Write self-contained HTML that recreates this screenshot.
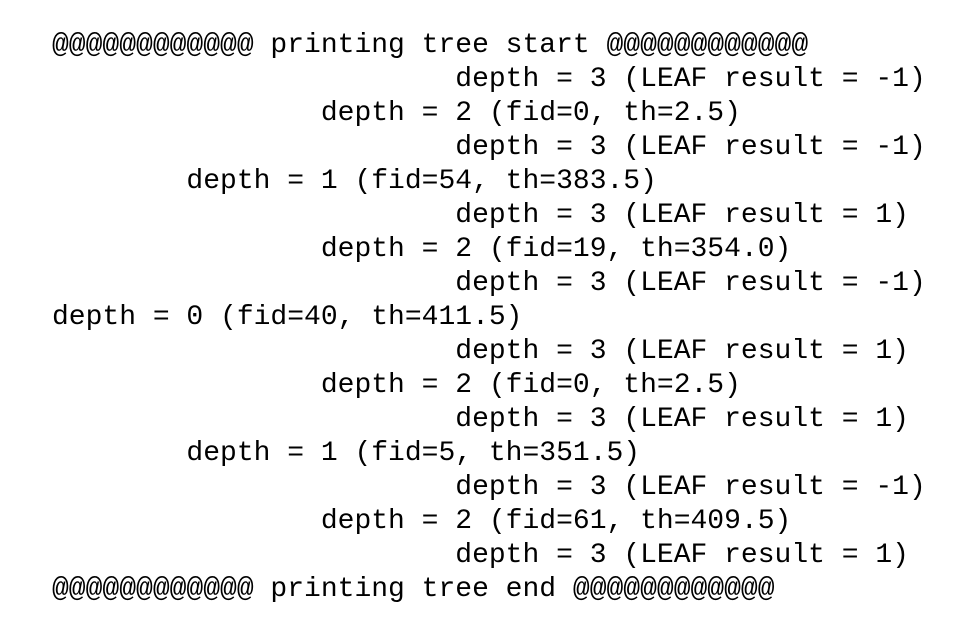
<!DOCTYPE html>
<html><head><meta charset="utf-8"><style>
html,body{margin:0;padding:0;background:#fff;width:970px;height:630px;overflow:hidden}
pre{position:absolute;left:52px;top:29px;margin:0;font-family:"Liberation Mono",monospace;font-size:28px;line-height:34px;color:#000}
</style></head><body><pre>@@@@@@@@@@@@ printing tree start @@@@@@@@@@@@
                        depth = 3 (LEAF result = -1)
                depth = 2 (fid=0, th=2.5)
                        depth = 3 (LEAF result = -1)
        depth = 1 (fid=54, th=383.5)
                        depth = 3 (LEAF result = 1)
                depth = 2 (fid=19, th=354.0)
                        depth = 3 (LEAF result = -1)
depth = 0 (fid=40, th=411.5)
                        depth = 3 (LEAF result = 1)
                depth = 2 (fid=0, th=2.5)
                        depth = 3 (LEAF result = 1)
        depth = 1 (fid=5, th=351.5)
                        depth = 3 (LEAF result = -1)
                depth = 2 (fid=61, th=409.5)
                        depth = 3 (LEAF result = 1)
@@@@@@@@@@@@ printing tree end @@@@@@@@@@@@</pre></body></html>
